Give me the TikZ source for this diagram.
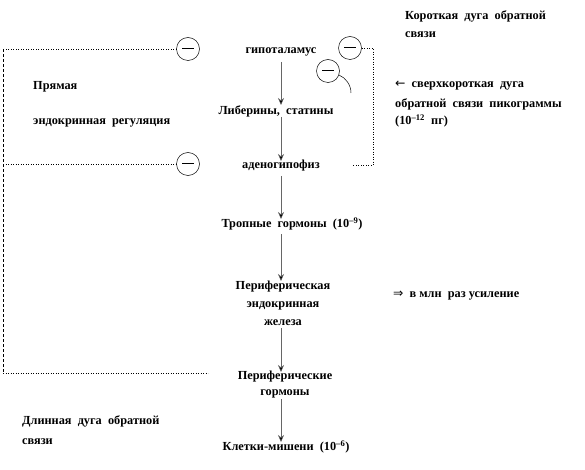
\documentclass[tikz,border=0pt]{standalone}
\usepackage{fontspec}
\setmainfont{Liberation Serif}
\newfontfamily\symfont{DejaVu Sans}
\usetikzlibrary{arrows.meta}
\newcommand{\negbar}{\rule[0.5pt]{12pt}{1.2pt}}
\newcommand{\sups}[1]{\textsuperscript{#1}}
\begin{document}
\begin{tikzpicture}[x=1pt,y=-1pt,
  lbl/.style={font=\fontsize{12.3}{14}\selectfont\bfseries, inner sep=0pt},
  lft/.style={lbl, anchor=west},
  flow/.style={draw=black!60, line width=0.5pt, -{Stealth[length=7pt,width=6pt,fill=black]}},
  neg/.style={circle, draw, line width=0.5pt, minimum size=23pt, inner sep=0pt},
  fb/.style={line width=0.5pt, dotted},
  fbd/.style={line width=0.5pt, dashed, dash pattern=on 3pt off 2pt}]
\useasboundingbox (0,0) rectangle (585,470);
% main chain
\node[lbl] (hyp) at (281,52) {гипоталамус};
\node[lbl] (lib) at (276,111) {Либерины,\ \ статины};
\node[lbl] (aden) at (281,166) {аденогипофиз};
\node[lbl] (trop) at (292,224) {Тропные\ \ гормоны\ \ (10\sups{–9})};
\node[lbl, align=center] (gland) at (283,303) {Периферическая\\[4pt]эндокринная\\[4pt]железа};
\node[lbl, align=center] (phorm) at (285,385) {Периферические\\[2pt]гормоны};
\node[lbl] (target) at (286,447) {Клетки-мишени\ \ (10\sups{–6})};
\draw[flow] (281,62) -- (281,105);
\draw[flow] (281,117) -- (281,161);
\draw[flow] (281,176) -- (281,219);
\draw[flow] (281,234) -- (281,281);
\draw[flow] (281,328) -- (281,372);
\draw[flow] (281,399) -- (281,442);
% inhibition circles
\node[neg] (n1) at (188,49) {\negbar};
\node[neg] (n2) at (188,164) {\negbar};
\node[neg] (n3) at (350,48) {\negbar};
\node[neg] (n4) at (328,71) {\negbar};
% long / direct feedback frame
\coordinate (c1) at (3,49);
\coordinate (c2) at (3,164);
\coordinate (c3) at (3,373);
\coordinate (c4) at (208,373);
\draw[fb] (n1.west) -- (c1);
\draw[fbd] (c1) -- (c3);
\draw[fb] (c3) -- (c4);
\draw[fb] (c2) -- (n2.west);
% short feedback
\coordinate (r1) at (373,48);
\coordinate (r2) at (373,165);
\coordinate (r3) at (352,165);
\draw[fb] (n3.east) -- (r1) -- (r2) -- (r3);
% ultra-short
\coordinate (u1) at (351,93);
\draw[line width=0.5pt] (n4.-20) .. controls (346,78) and (351,85) .. (u1);
% side labels
\node[lft] (t1) at (33,87) {Прямая};
\node[lft] (t2) at (33,123) {эндокринная\ \ регуляция};
\node[lft] (t3) at (405,16) {Короткая\ \ дуга\ \ обратной};
\node[lft] (t4) at (405,35) {связи};
\node[lft] (t5) at (395,86) {{\symfont\mdseries ←}\ \ сверхкороткая\ \ дуга};
\node[lft] (t6) at (395,104) {обратной\ \ связи\ \ пикограммы};
\node[lft] (t7) at (395,121) {(10\sups{–12}\ \ пг)};
\node[lft] (t8) at (393,296) {{\symfont\mdseries ⇒}\ \ в млн\ \ раз\ усиление};
\node[lft] (t9) at (22,421) {Длинная\ \ дуга\ \ обратной};
\node[lft] (t10) at (22,442) {связи};
\end{tikzpicture}
\end{document}
